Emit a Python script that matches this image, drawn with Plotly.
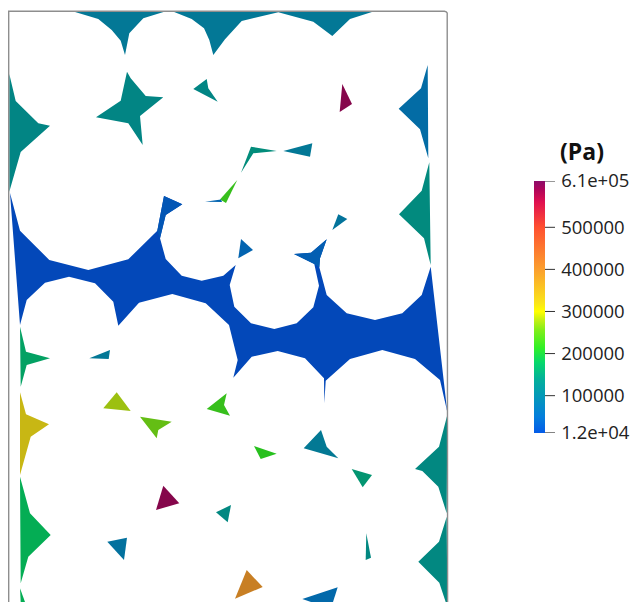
import plotly.graph_objects as go
from plotly.colors import sample_colorscale

# --- pressure range and colour bar labels
P_MIN = 12000
P_MAX = 610000
tick_values = [12000, 100000, 200000, 300000, 400000, 500000, 610000]
tick_labels = ["1.2e+04", "100000", "200000", "300000", "400000", "500000", "6.1e+05"]
colorbar_title = "(Pa)"

stop_values = [12000, 50000, 100000, 140000, 180000, 215000, 255000, 280000, 300000, 320000,
               400000, 500000, 560000, 590000, 610000]
stop_colors = ["#045BE8", "#047EDC", "#0499B8", "#03B09A", "#06D96A", "#32F026", "#7EEE1A", "#C4F014",
               "#FFFF00", "#FAE519", "#FB9F2E", "#FF5030", "#E01050", "#AF065A", "#8C0C6A"]

main_channel = [(10,193),(20,230.7),(49.3,260),(88.3,270),(128.3,259.3),(157.3,230.7),(164,196),(182.3,204.3),
    (165.7,215),(160,238.3),(165.7,259),(181.7,275.7),(201.7,280.7),(223.3,275.7),(235.7,265),(229.7,285),
    (234.3,306.7),(251,323.3),(274.3,329),(296.7,323.3),(313.3,307.3),(319,285.7),(314.3,264),(294,254),
    (311,252.7),(326.7,239.3),(320,258.3),(319.3,267.3),(326.7,295),(346.7,313.3),(375,320),(402.3,313.3),
    (421.7,295),(430.7,266.7),(447.3,412),(440,380),(415,359),(382.3,350),(350,359),(325.7,380.7),(324.3,403.3),
    (324,378.3),(305,358.3),(277.7,351),(251.7,356.7),(233.3,377.7),(237.7,360),(229,325),(205.7,303.3),
    (172.3,294),(139,302.7),(118.3,325.7),(113.3,301.7),(95,283.3),(69,276.7),(45,282.7),(26.7,300),(20,325)]
regions = [
    (main_channel, 12000),
    ([(164,196),(182.3,204.3),(165.7,215),(160,238.3),(157.3,230.7)], 30000),
    ([(294,254),(311,252.7),(326.7,239.3),(320,258.3),(319.3,267.3),(314.3,264)], 42000),
    ([(71.7,11),(98.3,19),(111.7,30),(120.7,40.7),(125,55),(129.3,33.3),(143.3,18.3),(166.7,11)], 95000),
    ([(171.7,11),(191.7,19),(204,28.3),(209.3,40),(213.3,55),(225,39.3),(241.7,21),(278.3,12.3),(313.3,21.7),
      (332.3,36),(350,19),(375,11)], 95000),
    ([(127,71.7),(130.7,78.3),(145.7,96),(163.3,97.3),(140,116),(142.7,145),(128.3,123.3),(96,117.3),(120.7,100.7)], 125000),
    ([(193.3,89),(206.7,79),(208.3,88.3),(217.7,101.7)], 125000),
    ([(9.3,74),(15.7,101),(38.3,123.3),(50,125.7),(20.7,152),(9.3,191.7)], 125000),
    ([(342.3,84),(352,104),(339.7,112)], 595000),
    ([(427.7,65),(421,88.3),(398.7,108.7),(420,129.3),(428.3,158.3)], 68000),
    ([(429.3,162.3),(423.3,186.7),(421.7,190.7),(399,214.3),(424,238.3),(430.7,265)], 135000),
    ([(283.3,151),(312.3,143.3),(310,156.7)], 95000),
    ([(276.7,151),(251,146.7),(241,172.7),(253.3,153.3)], 140000),
    ([(237.3,180),(220,199.5),(226,203)], 225000),
    ([(205,201.7),(221,199.5),(222,202)], 50000),
    ([(241,239),(253,250),(238.3,258.3)], 50000),
    ([(338.3,214.3),(347.3,219),(332.3,230)], 85000),
    ([(20,326.7),(26,351.7),(50,358.3),(26.7,365),(20.7,386.7)], 165000),
    ([(89.3,358.3),(110,350),(108.7,359)], 95000),
    ([(20,392.3),(26,414.3),(49,424.3),(30.7,436.7),(20,475)], 320000),
    ([(20,476.7),(30,513.3),(50.7,535),(28.3,556.7),(20.7,583.3)], 180000),
    ([(20,588.3),(25,602),(20.7,602)], 180000),
    ([(116.7,392.3),(130.7,411),(103.3,408.3)], 280000),
    ([(140,416.7),(171.7,421.7),(158.3,430),(156.7,438.3)], 255000),
    ([(206.7,409),(226.7,393.3),(224,405),(230,415.7)], 225000),
    ([(163.3,485.7),(179.3,503.3),(156,510)], 595000),
    ([(216,512.3),(231,505),(227.7,522.3)], 130000),
    ([(107.3,541.7),(127,537.7),(124,560)], 80000),
    ([(254,446),(276.7,453.7),(260.7,459)], 215000),
    ([(321,430),(326.7,446.7),(338.3,458.3),(303.7,448.3)], 97000),
    ([(351.7,469),(372,475),(362.7,487.3)], 150000),
    ([(447.3,415),(439,446.7),(415,469),(422.3,471),(438.3,486.7),(446.7,513.3)], 130000),
    ([(446.7,516.7),(439,541.7),(418.3,561.7),(439.3,582.7),(445.7,602),(447.3,602)], 130000),
    ([(366.3,533.3),(371,557.7),(365.7,560)], 130000),
    ([(246.7,570),(262.7,587),(235,598.7)], 400000),
    ([(302.3,599),(337.7,587.3),(333,602),(311,602)], 60000),
]
frame_x = [8.7, 8.7, 444.5, 446.2, 447.2, 447.6]
frame_y = [602, 11.3, 11.3, 11.8, 13, 602]

WIDTH, HEIGHT = 635, 602
BAR_LEFT, BAR_RIGHT = 534.3, 545
BAR_TOP, BAR_BOTTOM = 181, 432.7
SHADE = 0.8

scale = [[(v - P_MIN) / (P_MAX - P_MIN), c] for v, c in zip(stop_values, stop_colors)]


def shaded(value):
    rgb = sample_colorscale(scale, [(value - P_MIN) / (P_MAX - P_MIN)], colortype="tuple")[0]
    r, g, b = [int(255 * c * SHADE) for c in rgb]
    return f"rgb({r},{g},{b})"


fig = go.Figure()
for outline, pressure in regions:
    xs = [p[0] for p in outline]
    ys = [p[1] for p in outline]
    fig.add_trace(go.Scatter(x=xs, y=ys, mode="lines", fill="toself", fillcolor=shaded(pressure),
                             line=dict(width=0, color=shaded(pressure)), hoverinfo="skip", showlegend=False))

fig.add_trace(go.Scatter(x=frame_x, y=frame_y, mode="lines", line=dict(color="#8e8e8e", width=1.4),
                         hoverinfo="skip", showlegend=False))

# colour bar (drawn by the library from the pressure range)
fig.add_trace(go.Scatter(
    x=[-50, -50], y=[-50, -50], mode="markers", showlegend=False, hoverinfo="skip",
    marker=dict(color=[P_MIN, P_MAX], cmin=P_MIN, cmax=P_MAX, colorscale=scale, size=1, showscale=True,
                colorbar=dict(
                    thicknessmode="pixels", thickness=BAR_RIGHT - BAR_LEFT,
                    lenmode="pixels", len=BAR_BOTTOM - BAR_TOP,
                    x=BAR_LEFT / WIDTH, xanchor="left", xpad=0,
                    y=1 - BAR_TOP / HEIGHT, yanchor="top", ypad=0,
                    tickmode="array", tickvals=tick_values, ticktext=tick_labels,
                    ticks="outside", ticklen=13, tickwidth=1, tickcolor="rgba(0,0,0,0)",
                    tickfont=dict(family="Open Sans", size=18.5, color="#222222"),
                    outlinewidth=0, borderwidth=0))))

# tick marks that run over the bar, on a hidden axis aligned with the bar
tick_x, tick_y = [], []
for v in tick_values:
    tick_x += [540, 555, None]
    tick_y += [v, v, None]
fig.add_trace(go.Scatter(x=tick_x, y=tick_y, yaxis="y2", mode="lines", line=dict(color="#333333", width=1),
                         hoverinfo="skip", showlegend=False))

fig.add_annotation(text=f"<b>{colorbar_title}</b>", xref="paper", yref="paper",
                   x=558 / WIDTH, y=1 - 151 / HEIGHT, xanchor="left", yanchor="middle", showarrow=False,
                   font=dict(family="Open Sans", size=23, color="#111111"))

fig.update_layout(
    width=WIDTH, height=HEIGHT, margin=dict(l=0, r=0, t=0, b=0),
    paper_bgcolor="white", plot_bgcolor="rgba(0,0,0,0)", showlegend=False,
    xaxis=dict(range=[0, WIDTH], visible=False, domain=[0, 1], fixedrange=True),
    yaxis=dict(range=[HEIGHT, 0], visible=False, domain=[0, 1], fixedrange=True),
    yaxis2=dict(range=[P_MIN, P_MAX], visible=False, anchor="x", fixedrange=True,
                domain=[1 - BAR_BOTTOM / HEIGHT, 1 - BAR_TOP / HEIGHT]),
)
fig.write_html("out.html", config=dict(displayModeBar=False),
               post_script="document.body.style.margin='0';document.body.style.overflow='hidden';")
